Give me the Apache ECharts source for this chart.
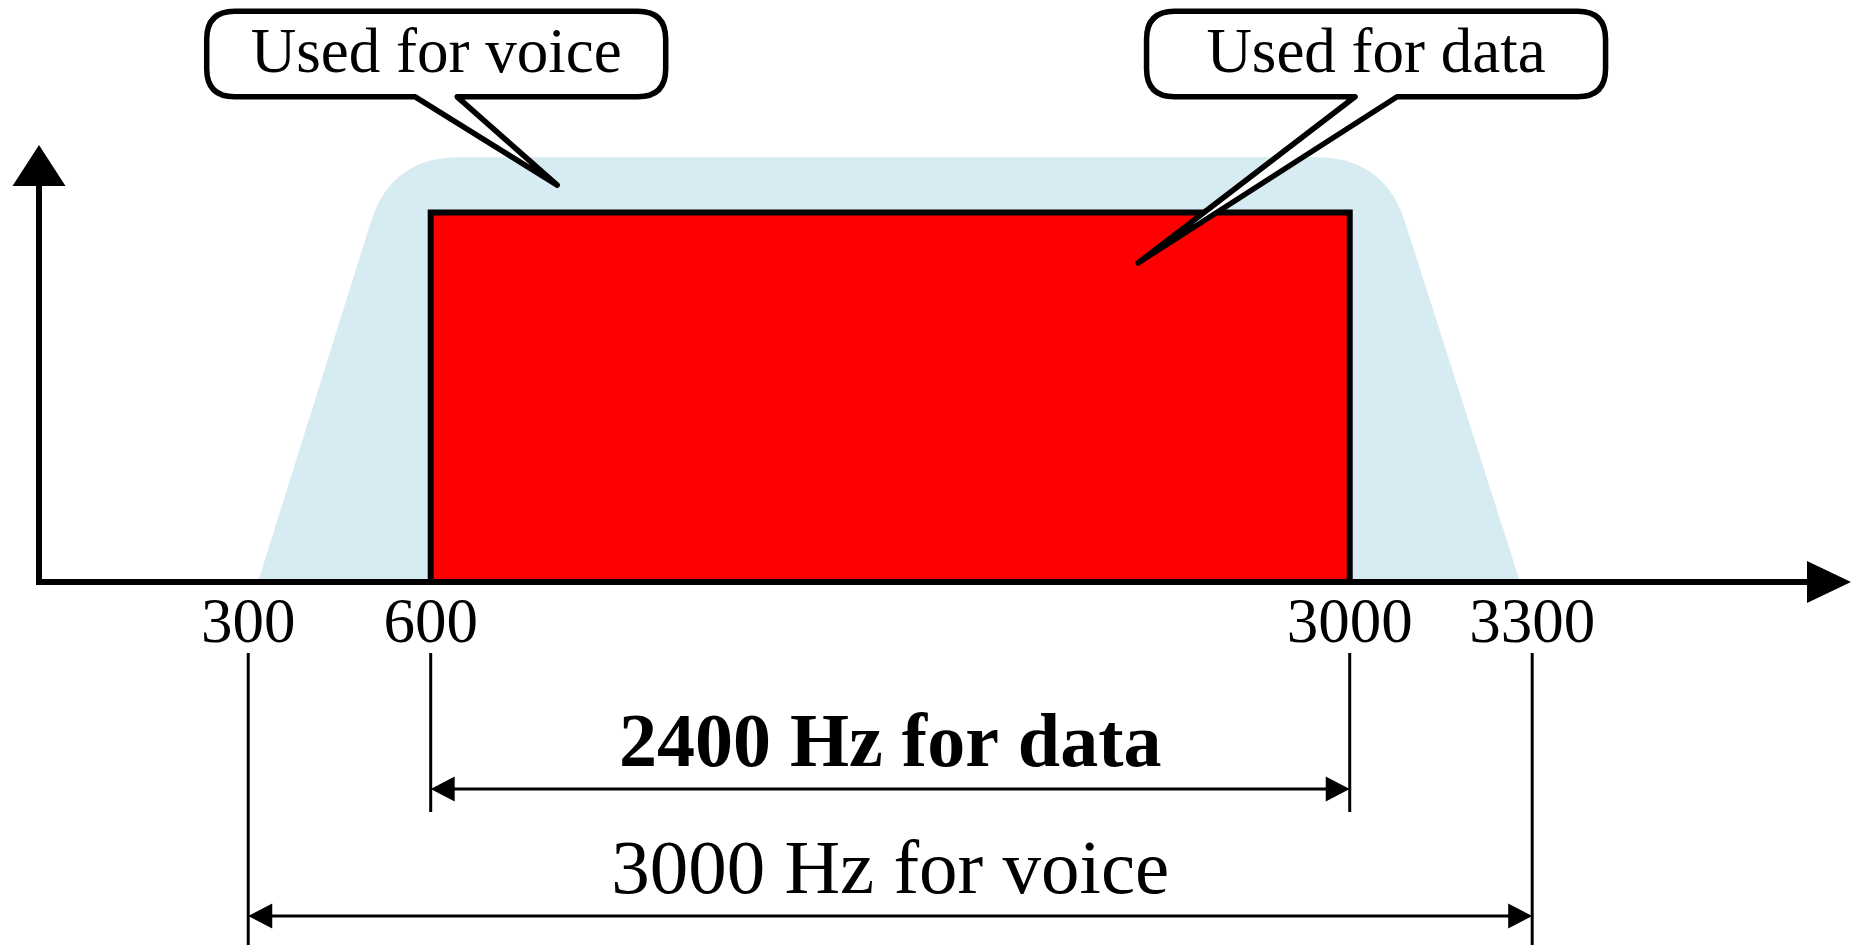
<!DOCTYPE html>
<html>
<head>
<meta charset="utf-8">
<script src="https://cdn.jsdelivr.net/npm/echarts@6/dist/echarts.min.js"></script>
<style>
  html, body { margin: 0; padding: 0; background: #ffffff; }
  #chart { width: 1858px; height: 945px; }
</style>
</head>
<body>
<div id="chart"></div>
<script>
// ------------------------- data -------------------------
const tickValues = [300, 600, 3000, 3300];                 // frequency labels (Hz)
const voiceBandHz = [316, 535, 3057, 3280];                // light-blue voice band outline (Hz)
const voiceBandLevel = [0, 10.2, 10.2, 0];                 // relative level at those points
const dataBandHz = [600, 3000];                            // red data band edges (Hz)
const dataBandLevel = 8.87;                                // red band height
const spanStartHz = [600, 300];
const spanEndHz = [3000, 3300];
const spanLabels = ['2400 Hz for data', '3000 Hz for voice'];
const calloutTexts = ['Used for voice', 'Used for data'];
const calloutTipHz = [808, 2652];
const calloutTipLevel = [9.53, 7.66];

// ------------------------- style / layout -------------------------
const SERIF = '"Liberation Serif", "Times New Roman", serif';
const X_MIN = -44, X_MAX = 3788;
const BREAK = { start: 1200, end: 2089, gap: 0 };
const CALLOUT_OFFSET = [[-121, -131], [238, -209]];
const SPAN_ROWS = [
  { ext0: 71, arrow: 207, ext1: 230, text: 164, font: 'bold 76px ' + SERIF },
  { ext0: 71, arrow: 334, ext1: 370, text: 291, font: '77px ' + SERIF }
];

function toward(a, b, d) {
  const dx = b[0] - a[0], dy = b[1] - a[1], L = Math.hypot(dx, dy);
  return [a[0] + dx / L * d, a[1] + dy / L * d];
}
function P(p) { return p[0].toFixed(2) + ',' + p[1].toFixed(2); }

function renderVoiceBand(params, api) {
  const pts = voiceBandHz.map((h, i) => api.coord([h, voiceBandLevel[i]]));
  const r = 68;
  const [p0, p1, p2, p3] = pts;
  const a1 = toward(p1, p0, r), b1 = toward(p1, p2, r);
  const a2 = toward(p2, p1, r), b2 = toward(p2, p3, r);
  const d = 'M' + P(p0) + ' L' + P(a1) + ' Q' + P(p1) + ' ' + P(b1) +
            ' L' + P(a2) + ' Q' + P(p2) + ' ' + P(b2) + ' L' + P(p3) + ' Z';
  return { type: 'path', shape: { pathData: d }, style: { fill: '#d7ebf2' } };
}

function renderDataBand(params, api) {
  const a = api.coord([api.value(0), 0]);
  const b = api.coord([api.value(1), api.value(2)]);
  return {
    type: 'rect',
    shape: { x: a[0], y: b[1], width: b[0] - a[0], height: a[1] - b[1] },
    style: { fill: '#ff0000', stroke: '#000000', lineWidth: 6 }
  };
}

function renderCallout(params, api) {
  const i = params.dataIndex;
  const tip = api.coord([api.value(0), api.value(1)]);
  const off = CALLOUT_OFFSET[i];
  const cx = tip[0] + off[0], cy = tip[1] + off[1];
  const w = 459, h = 85.5, r = 28, hw = 21;
  const L = cx - w / 2, R = cx + w / 2, T = cy - h / 2, B = cy + h / 2;
  const d = 'M' + P([cx - hw, B]) + ' L' + P([L + r, B]) + ' Q' + P([L, B]) + ' ' + P([L, B - r]) +
            ' L' + P([L, T + r]) + ' Q' + P([L, T]) + ' ' + P([L + r, T]) +
            ' L' + P([R - r, T]) + ' Q' + P([R, T]) + ' ' + P([R, T + r]) +
            ' L' + P([R, B - r]) + ' Q' + P([R, B]) + ' ' + P([R - r, B]) +
            ' L' + P([cx + hw, B]) + ' L' + P(tip) + ' Z';
  return {
    type: 'group',
    children: [
      { type: 'path', shape: { pathData: d },
        style: { fill: '#ffffff', stroke: '#000000', lineWidth: 5.5, lineJoin: 'round' } },
      { type: 'text', style: { text: calloutTexts[i], x: cx, y: cy + 1.5, align: 'center',
        verticalAlign: 'middle', font: '63px ' + SERIF, fill: '#000000' } }
    ]
  };
}

function renderSpan(params, api) {
  const i = params.dataIndex;
  const a = api.coord([api.value(0), 0]);
  const b = api.coord([api.value(1), 0]);
  const row = SPAN_ROWS[i];
  const base = a[1];
  const ya = base + row.arrow;
  const lw = 3, ah = 24, aw = 12.5;
  const line = (x1, y1, x2, y2) => ({ type: 'line', shape: { x1, y1, x2, y2 },
    style: { stroke: '#000000', lineWidth: lw } });
  return {
    type: 'group',
    children: [
      line(a[0], base + row.ext0, a[0], base + row.ext1),
      line(b[0], base + row.ext0, b[0], base + row.ext1),
      line(a[0] + ah - 4, ya, b[0] - ah + 4, ya),
      { type: 'polygon', shape: { points: [[a[0], ya], [a[0] + ah, ya - aw], [a[0] + ah, ya + aw]] },
        style: { fill: '#000000' } },
      { type: 'polygon', shape: { points: [[b[0], ya], [b[0] - ah, ya - aw], [b[0] - ah, ya + aw]] },
        style: { fill: '#000000' } },
      { type: 'text', style: { text: spanLabels[i], x: (a[0] + b[0]) / 2, y: base + row.text,
        align: 'center', verticalAlign: 'middle', font: row.font, fill: '#000000' } }
    ]
  };
}

const chart = echarts.init(document.getElementById('chart'), null, { renderer: 'canvas' });
chart.setOption({
  animation: false,
  backgroundColor: '#ffffff',
  grid: { left: 39, right: 29, top: 165.5, bottom: 363, containLabel: false },
  xAxis: {
    type: 'value', min: X_MIN, max: X_MAX, z: 10,
    breaks: [BREAK],
    breakArea: { show: false },
    axisLine: { show: true, onZero: true, symbol: ['none', 'triangle'], symbolSize: [42, 44],
      lineStyle: { color: '#000000', width: 6, cap: 'square' } },
    axisTick: { show: false },
    splitLine: { show: false },
    axisLabel: { show: true, customValues: tickValues, formatter: v => String(v), margin: 12,
      fontSize: 63, fontFamily: SERIF, color: '#000000' }
  },
  yAxis: {
    type: 'value', min: 0, max: 10, z: 10,
    axisLine: { show: true, onZero: false, symbol: ['none', 'triangle'], symbolSize: [53, 41],
      lineStyle: { color: '#000000', width: 6, cap: 'square' } },
    axisTick: { show: false },
    splitLine: { show: false },
    axisLabel: { show: false }
  },
  series: [
    { type: 'custom', name: 'voice band', clip: false, z: 1, silent: true,
      renderItem: renderVoiceBand, data: [[voiceBandHz[0], voiceBandLevel[0]]] },
    { type: 'custom', name: 'data band', clip: false, z: 2, silent: true,
      encode: { x: [0, 1], y: 2 },
      renderItem: renderDataBand, data: [[dataBandHz[0], dataBandHz[1], dataBandLevel]] },
    { type: 'custom', name: 'spans', clip: false, z: 3, silent: true,
      encode: { x: [0, 1] },
      renderItem: renderSpan, data: spanStartHz.map((s, i) => [s, spanEndHz[i]]) },
    { type: 'custom', name: 'callouts', clip: false, z: 5, silent: true,
      renderItem: renderCallout, data: calloutTipHz.map((h, i) => [h, calloutTipLevel[i]]) }
  ]
});
</script>
</body>
</html>
